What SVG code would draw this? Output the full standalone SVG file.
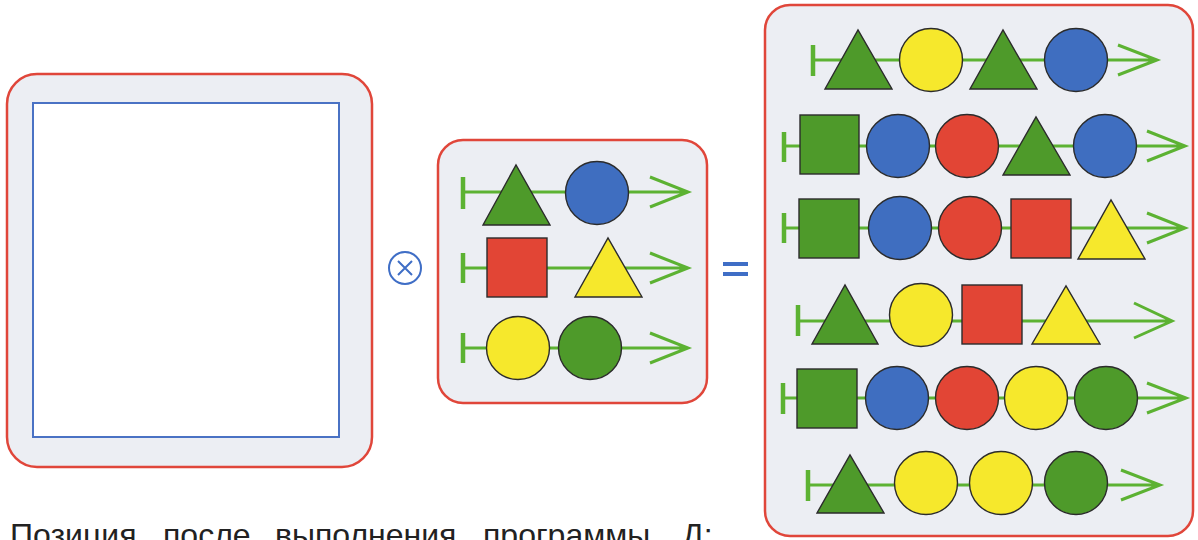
<svg xmlns="http://www.w3.org/2000/svg" width="1198" height="540" viewBox="0 0 1198 540">
<style>
.panel{fill:#eceef3;stroke:#e0463a;stroke-width:2.5}
.sh{stroke:#2b2b2b;stroke-width:1.4}
.g{fill:#4e9a2a}
.b{fill:#3f6ec0}
.r{fill:#e24535}
.y{fill:#f6e82c}
.ax{stroke:#5cb232;stroke-width:3;fill:none;stroke-linecap:butt}
.bar{stroke:#5cb232;stroke-width:4.5}
.op{stroke:#3f6ec6;stroke-width:2;fill:none}
.txt{font-family:"Liberation Sans",Arial,sans-serif;font-size:32px;fill:#222222}
</style>
<rect width="1198" height="540" fill="#ffffff"/>

<g id="left-panel">
<rect class="panel" x="7" y="74" width="365" height="393" rx="30"/>
<rect x="33" y="103" width="306" height="334" fill="#ffffff" stroke="#4a72c4" stroke-width="2"/>
</g>

<g id="op-times">
<circle class="op" cx="405" cy="268" r="16"/>
<path class="op" d="M398,261 L412,275 M412,261 L398,275"/>
</g>

<g id="op-equals">
<rect x="723" y="262" width="25" height="4" fill="#3f6ec6"/>
<rect x="723" y="272" width="25" height="4" fill="#3f6ec6"/>
</g>

<g id="middle-panel">
<rect class="panel" x="438" y="140" width="269" height="263" rx="25"/>
</g>
<g id="right-panel">
<rect class="panel" x="765" y="5" width="428" height="531" rx="25"/>
</g>

<g id="connectors">
<line class="bar" x1="463" y1="177" x2="463" y2="209"/>
<path class="ax" d="M463,192 H688 M650,177 L688,192 L650,207"/>
<line class="bar" x1="463" y1="253" x2="463" y2="283"/>
<path class="ax" d="M463,268 H688 M650,253 L688,268 L650,283"/>
<line class="bar" x1="463" y1="333" x2="463" y2="363"/>
<path class="ax" d="M463,348 H688 M650,333 L688,348 L650,363"/>
<line class="bar" x1="813" y1="45" x2="813" y2="76"/>
<path class="ax" d="M813,60 H1157 M1118,45 L1157,60 L1118,75"/>
<line class="bar" x1="784" y1="132" x2="784" y2="162"/>
<path class="ax" d="M784,146 H1185 M1147,131 L1185,146 L1147,161"/>
<line class="bar" x1="784" y1="213" x2="784" y2="243"/>
<path class="ax" d="M784,228 H1185 M1147,213 L1185,228 L1147,243"/>
<line class="bar" x1="798" y1="305" x2="798" y2="336"/>
<path class="ax" d="M798,321 H1172 M1134,303 L1172,321 L1134,338"/>
<line class="bar" x1="783" y1="383" x2="783" y2="414"/>
<path class="ax" d="M783,398 H1186 M1147,383 L1186,398 L1147,413"/>
<line class="bar" x1="808" y1="470" x2="808" y2="501"/>
<path class="ax" d="M808,485 H1160 M1121,470 L1160,485 L1121,500"/>
</g>

<g id="m-row1">
<polygon class="sh g" points="483,225 550,225 516,165"/>
<circle class="sh b" cx="597" cy="193" r="31.5"/>
</g>
<g id="m-row2">
<rect class="sh r" x="487" y="238" width="60" height="59"/>
<polygon class="sh y" points="575,297 642,297 608,238"/>
</g>
<g id="m-row3">
<circle class="sh y" cx="518" cy="348" r="31.5"/>
<circle class="sh g" cx="590" cy="348" r="31.5"/>
</g>

<g id="r-row1">
<polygon class="sh g" points="825,89 892,89 858,30"/>
<circle class="sh y" cx="931" cy="60" r="31.5"/>
<polygon class="sh g" points="970,89 1037,89 1003,30"/>
<circle class="sh b" cx="1076" cy="60" r="31.5"/>
</g>
<g id="r-row2">
<rect class="sh g" x="800" y="115" width="59" height="59"/>
<circle class="sh b" cx="898" cy="146" r="31.5"/>
<circle class="sh r" cx="967" cy="146" r="31.5"/>
<polygon class="sh g" points="1003,175 1070,175 1036,117"/>
<circle class="sh b" cx="1105" cy="146" r="31.5"/>
</g>
<g id="r-row3">
<rect class="sh g" x="799" y="199" width="60" height="59"/>
<circle class="sh b" cx="900" cy="228" r="31.5"/>
<circle class="sh r" cx="970" cy="228" r="31.5"/>
<rect class="sh r" x="1011" y="199" width="60" height="59"/>
<polygon class="sh y" points="1078,259 1145,259 1111,200"/>
</g>
<g id="r-row4">
<polygon class="sh g" points="812,344 878,344 845,285"/>
<circle class="sh y" cx="921" cy="315" r="31.5"/>
<rect class="sh r" x="962" y="285" width="60" height="59"/>
<polygon class="sh y" points="1032,344 1100,344 1066,286"/>
</g>
<g id="r-row5">
<rect class="sh g" x="797" y="369" width="60" height="59"/>
<circle class="sh b" cx="897" cy="398" r="31.5"/>
<circle class="sh r" cx="967" cy="398" r="31.5"/>
<circle class="sh y" cx="1036" cy="398" r="31.5"/>
<circle class="sh g" cx="1106" cy="398" r="31.5"/>
</g>
<g id="r-row6">
<polygon class="sh g" points="817,513 884,513 850,455"/>
<circle class="sh y" cx="926" cy="483" r="31.5"/>
<circle class="sh y" cx="1001" cy="483" r="31.5"/>
<circle class="sh g" cx="1076" cy="483" r="31.5"/>
</g>

<g id="caption" class="txt">
<text x="10" y="546">Позиция</text>
<text x="163" y="546">после</text>
<text x="275" y="546">выполнения</text>
<text x="483" y="546">программы</text>
<text x="682" y="546">Д:</text>
</g>
</svg>
